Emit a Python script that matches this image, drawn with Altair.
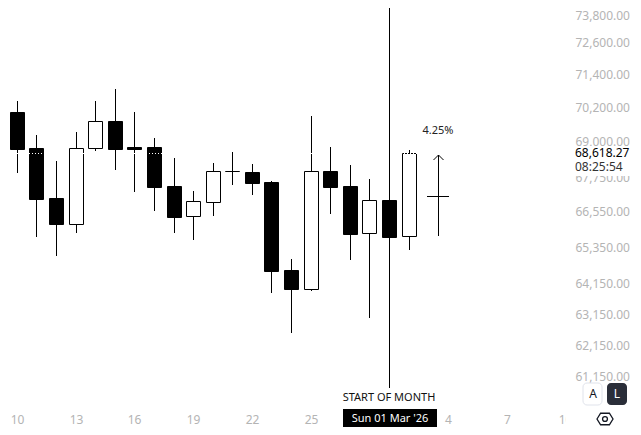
import altair as alt
import pandas as pd

FONT = "Noto Sans"
days = list(range(-1, 21))
highs = [70300, 70432, 69213, 68295, 69320, 70432, 70867, 70036, 69107, 68401, 67251, 68226, 68601, 68190, 67587, 64944, 69892, 68788, 68156, 67667, 66942, 68700]
lows = [69900, 67886, 65692, 65054, 65827, 68658, 67991, 67227, 66575, 65827, 65591, 66404, 67469, 67124, 63831, 62533, 63896, 66472, 64921, 63016, 65692, 65255]
opens = [70251, 70036, 68753, 67010, 66132, 68753, 69712, 68788, 68788, 67424, 66384, 66883, 67936, 67911, 67563, 64579, 63962, 67946, 67424, 65807, 66942, 65706]
closes = [69999, 68717, 66987, 66122, 68753, 69712, 68717, 68717, 67390, 66370, 66897, 67936, 67936, 67539, 64556, 63962, 67936, 67400, 65793, 66931, 65692, 68576]
down = [True, True, True, True, False, False, True, True, True, True, False, False, True, True, True, True, False, True, True, False, True, False]

y_ticks = [73800, 72600, 71400, 70200, 69000, 67750, 66550, 65350, 64150, 63150, 62150, 61150]
x_ticks = [0, 3, 6, 9, 12, 15, 22, 25, 28]
x_labels = ["10", "13", "16", "19", "22", "25", "4", "7", "10"]

X_MIN, X_MAX = -0.4502, 31.454
Y_MIN, Y_MAX = 59579, 73876
x_s = alt.Scale(domain=[X_MIN, X_MAX], round=True, nice=False, zero=False, padding=0)
y_s = alt.Scale(type="log", domain=[Y_MIN, Y_MAX], round=True, nice=False, zero=False, padding=0)

df = pd.DataFrame({"d": days, "h": highs, "l": lows, "o": opens, "c": closes,
                   "f": ["down" if v else "up" for v in down]})
df["top"] = df[["o", "c"]].max(axis=1)
df["bot"] = df[["o", "c"]].min(axis=1)

label_expr = "{" + ",".join(f"'{t}':'{l}'" for t, l in zip(x_ticks, x_labels)) + "}[datum.value]"

wicks = alt.Chart(df).mark_rule(color="black", strokeWidth=1, xOffset=0.5).encode(
    x=alt.X("d:Q", scale=x_s, axis=alt.Axis(values=x_ticks, labelExpr=label_expr, title=None, grid=False,
             domain=False, ticks=False, labelColor="#b4b4b4", labelFont=FONT, labelFontSize=12,
             labelBaseline="middle", labelPadding=0, offset=-8, labelFlush=False, labelOverlap=False, labelBound=False)),
    y=alt.Y("h:Q", scale=y_s, axis=alt.Axis(values=y_ticks, format=",.2f", title=None, grid=False, orient="right",
             domain=False, ticks=False, labelColor="#b4b4b4", labelFont=FONT, labelFontSize=12,
             labelOffset=alt.expr("datum.value == 73800 ? 5 : 0"),
             labelAlign="left", labelPadding=0, offset=-58, labelFlush=False, labelOverlap=False, labelBound=False)),
    y2="l:Q")

bodies = alt.Chart(df).mark_bar(size=14, stroke="black", strokeWidth=1, xOffset=0.5, yOffset=0.5, y2Offset=0.5).encode(
    x=alt.X("d:Q", scale=x_s),
    y=alt.Y("top:Q", scale=y_s),
    y2="bot:Q",
    fill=alt.Fill("f:N", scale=alt.Scale(domain=["down", "up"], range=["black", "white"]), legend=None))

def frame(**cols):
    return pd.DataFrame(cols)

# last-price dotted line
price_line = alt.Chart(frame(a=[X_MIN], b=[20.43], p=[68576])).mark_rule(
    color="white", strokeWidth=1, strokeDash=[1, 2], yOffset=0.5).encode(
    x=alt.X("a:Q", scale=x_s), x2="b:Q", y=alt.Y("p:Q", scale=y_s))

# start-of-month vertical line
vline = alt.Chart(frame(d=[19], a=[Y_MAX], b=[60782])).mark_rule(color="black", strokeWidth=1, xOffset=0.5).encode(
    x=alt.X("d:Q", scale=x_s), y=alt.Y("a:Q", scale=y_s), y2="b:Q")

# projection arrow
shaft = alt.Chart(frame(d=[21.5], a=[68506], b=[65726])).mark_rule(color="black", strokeWidth=1, xOffset=0.5).encode(
    x=alt.X("d:Q", scale=x_s), y=alt.Y("a:Q", scale=y_s), y2="b:Q")
cross = alt.Chart(frame(a=[20.94], b=[22.05], p=[67067])).mark_rule(color="black", strokeWidth=1, yOffset=0.5).encode(
    x=alt.X("a:Q", scale=x_s), x2="b:Q", y=alt.Y("p:Q", scale=y_s))
head = alt.Chart(frame(d=[21.25, 21.5, 21.75], p=[68331, 68506, 68331])).mark_line(color="black", strokeWidth=1, xOffset=0.5).encode(
    x=alt.X("d:Q", scale=x_s), y=alt.Y("p:Q", scale=y_s))

# panes and boxes
def box(x1, x2, y1, y2, **kw):
    return alt.Chart(frame(a=[x1], b=[x2], t=[y1], u=[y2])).mark_rect(**kw).encode(
        x=alt.X("a:Q", scale=x_s), x2="b:Q", y=alt.Y("t:Q", scale=y_s), y2="u:Q")

pane_bottom = box(28.03, X_MAX, 60256, Y_MIN, color="white")
pane_price = box(28.24, X_MAX, 68823, 67789, color="white")
date_box = box(16.64, 21.46, 60131, Y_MIN, color="black")
btn_a = box(28.9, 29.87, 60939, 60256, fill="white", stroke="#e0e3eb", strokeWidth=1, cornerRadius=4)
btn_l = box(30.13, 31.15, 60939, 60256, fill="#2a2e39", cornerRadius=4)

def text(s, x, y, color="black", size=12, align="center"):
    return alt.Chart(frame(d=[x], p=[y], s=[s])).mark_text(
        font=FONT, fontSize=size, color=color, align=align, baseline="middle").encode(
        x=alt.X("d:Q", scale=x_s), y=alt.Y("p:Q", scale=y_s), text="s:N")

texts = [
    text("4.25%", 21.5, 69356, color="#222222", size=11),
    text("START OF MONTH", 18.98, 60472, color="#111111", size=11),
    text("Sun 01 Mar '26", 19.03, 59822, color="white", size=11),
    text("68,618.27", 28.49, 68587, align="left"),
    text("08:25:54", 28.49, 68096, color="#333333", align="left"),
    text("A", 29.41, 60596, color="#131722"),
    text("L", 30.63, 60596, color="white"),
]

hexagon = alt.Chart(frame(d=[30.02], p=[59822])).mark_point(
    shape="M-1,0 L-0.55,-0.72 L0.55,-0.72 L1,0 L0.55,0.72 L-0.55,0.72 Z",
    size=256, filled=False, stroke="#131722", strokeWidth=1.3, opacity=1).encode(
    x=alt.X("d:Q", scale=x_s), y=alt.Y("p:Q", scale=y_s))
hex_dot = alt.Chart(frame(d=[30.02], p=[59822])).mark_point(
    shape="circle", size=24, filled=False, stroke="#131722", strokeWidth=1.3, opacity=1).encode(
    x=alt.X("d:Q", scale=x_s), y=alt.Y("p:Q", scale=y_s))

chart = alt.layer(wicks, bodies, price_line, vline, shaft, cross, head,
                  pane_bottom, pane_price, date_box, btn_a, btn_l, *texts, hexagon, hex_dot).properties(
    width=625, height=419, padding=0, autosize=alt.AutoSizeParams(type="none"),
    background="white").configure_view(stroke=None)

chart.save("out.html", embed_options={"renderer": "svg", "actions": False})
